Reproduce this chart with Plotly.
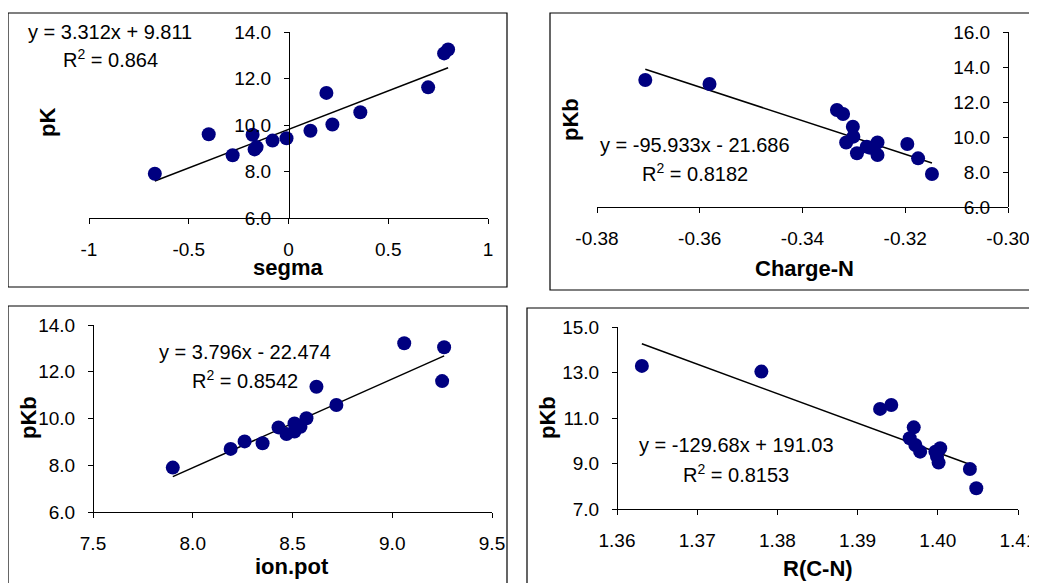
import plotly.graph_objects as go

W, H = 1037, 583
OX, OY = 8, 8  # page body margin offset

# ---------------- data ----------------
sigma = [-0.67, -0.40, -0.28, -0.18, -0.17, -0.16, -0.08, -0.01, 0.11, 0.19, 0.22, 0.36, 0.70, 0.78, 0.80]
pK1 = [7.90, 9.60, 8.70, 9.58, 8.95, 9.05, 9.33, 9.43, 9.75, 11.38, 10.02, 10.55, 11.62, 13.08, 13.25]

charge = [-0.3706, -0.3581, -0.3333, -0.3321, -0.3302, -0.3315, -0.3301, -0.3294, -0.3275, -0.3268,
          -0.3254, -0.3254, -0.3196, -0.3175, -0.3148]
pKb2 = [13.26, 13.03, 11.54, 11.31, 10.59, 9.69, 10.02, 9.07, 9.45, 9.38, 9.69, 8.97, 9.60, 8.78, 7.89]

ionpot = [7.90, 8.19, 8.26, 8.35, 8.43, 8.47, 8.51, 8.51, 8.54, 8.57, 8.62, 8.72, 9.06, 9.26, 9.25]
pKb3 = [7.90, 8.70, 9.02, 8.94, 9.62, 9.34, 9.79, 9.44, 9.65, 10.01, 11.36, 10.58, 13.22, 13.05, 11.60]

rcn = [1.3631, 1.3780, 1.3928, 1.3942, 1.3970, 1.3965, 1.3972, 1.3978, 1.3997, 1.4003, 1.4001,
       1.3999, 1.4040, 1.4048]
pKb4 = [13.29, 13.04, 11.40, 11.57, 10.59, 10.11, 9.81, 9.52, 9.52, 9.67, 9.04, 9.30, 8.76, 7.91]

# trendline coefficients (slope, intercept) as printed
fit1 = (3.312, 9.811)
fit2 = (-95.933, -21.686)
fit3 = (3.796, -22.474)
fit4 = (-129.68, 191.03)

eq_texts = [("y = 3.312x + 9.811", "R<sup>2</sup> = 0.864"),
            ("y = -95.933x - 21.686", "R<sup>2</sup> = 0.8182"),
            ("y = 3.796x - 22.474", "R<sup>2</sup> = 0.8542"),
            ("y = -129.68x + 191.03", "R<sup>2</sup> = 0.8153")]

x1_ticks = [-1, -0.5, 0, 0.5, 1]
x1_text = ["-1", "-0.5", "0", "0.5", "1"]
y1_ticks = [6, 8, 10, 12, 14]
y1_text = ["6.0", "8.0", "10.0", "12.0", "14.0"]

x2_ticks = [-0.38, -0.36, -0.34, -0.32, -0.30]
x2_text = ["-0.38", "-0.36", "-0.34", "-0.32", "-0.30"]
y2_ticks = [6, 8, 10, 12, 14, 16]
y2_text = ["6.0", "8.0", "10.0", "12.0", "14.0", "16.0"]

x3_ticks = [7.5, 8.0, 8.5, 9.0, 9.5]
x3_text = ["7.5", "8.0", "8.5", "9.0", "9.5"]
y3_ticks = [6, 8, 10, 12, 14]
y3_text = ["6.0", "8.0", "10.0", "12.0", "14.0"]

x4_ticks = [1.36, 1.37, 1.38, 1.39, 1.40, 1.41]
x4_text = ["1.36", "1.37", "1.38", "1.39", "1.40", "1.41"]
y4_ticks = [7, 9, 11, 13, 15]
y4_text = ["7.0", "9.0", "11.0", "13.0", "15.0"]

x_titles = ["segma", "Charge-N", "ion.pot", "R(C-N)"]
y_titles = ["pK", "pKb", "pKb", "pKb"]

# ---------------- layout helpers ----------------
FONT = "Arial, Liberation Sans, sans-serif"
MARK = "#000080"


def px_x(a):
    return (a - OX) / W


def px_y(a):
    return 1 - (a - OY) / H


def xd(a, b):
    return [px_x(a), px_x(b)]


def yd(top, bottom):
    return [px_y(bottom), px_y(top)]


fig = go.Figure()

panels = [
    (sigma, pK1, fit1),
    (charge, pKb2, fit2),
    (ionpot, pKb3, fit3),
    (rcn, pKb4, fit4),
]

for i, (xs, ys, (m, b)) in enumerate(panels, start=1):
    xa = "x" if i == 1 else f"x{i}"
    ya = "y" if i == 1 else f"y{i}"
    lo, hi = min(xs), max(xs)
    fig.add_trace(go.Scatter(x=[lo, hi], y=[m * lo + b, m * hi + b], mode="lines",
                             line=dict(color="black", width=1.5), xaxis=xa, yaxis=ya,
                             showlegend=False, hoverinfo="skip", cliponaxis=False))
    fig.add_trace(go.Scatter(x=xs, y=ys, mode="markers",
                             marker=dict(color=MARK, size=14, line=dict(width=0)),
                             xaxis=xa, yaxis=ya, showlegend=False, cliponaxis=False))

common_ax = dict(showgrid=False, zeroline=False, showline=True, linecolor="black", linewidth=1,
                 ticks="outside", ticklen=5, tickwidth=1, tickcolor="black",
                 tickfont=dict(family=FONT, size=19, color="black"), automargin=False)

specs = [
    ((89, 488), (-1, 1), (32, 218), (6, 14), 289, x1_ticks, x1_text, y1_ticks, y1_text),
    ((597, 1008), (-0.38, -0.30), (32, 207), (6, 16), 1008, x2_ticks, x2_text, y2_ticks, y2_text),
    ((93, 492), (7.5, 9.5), (325, 512), (6, 14), 93, x3_ticks, x3_text, y3_ticks, y3_text),
    ((617, 1018), (1.36, 1.41), (327, 509), (7, 15), 617, x4_ticks, x4_text, y4_ticks, y4_text),
]

lay = {}
for i, (xdp, xr, ydp, yr, ypos, xt, xtt, yt, ytt) in enumerate(specs, start=1):
    xk = "xaxis" if i == 1 else f"xaxis{i}"
    yk = "yaxis" if i == 1 else f"yaxis{i}"
    ya = "y" if i == 1 else f"y{i}"
    lay[xk] = dict(common_ax, domain=xd(*xdp), range=list(xr), anchor=ya,
                   tickvals=xt, ticktext=xtt, ticklabelstandoff=9)
    lay[yk] = dict(common_ax, domain=yd(*ydp), range=list(yr), anchor="free",
                   position=px_x(ypos), side="left",
                   tickvals=yt, ticktext=ytt, ticklabelstandoff=9)

fig.update_layout(**lay)

# boxes around each chart
boxes = [(8, 13, 507, 287), (550, 13, 1032, 290), (8, 306, 507, 600), (527, 308, 1050, 600)]
shapes = []
for (x0, y0, x1, y1) in boxes:
    shapes.append(dict(type="rect", xref="paper", yref="paper",
                       x0=px_x(x0), x1=px_x(x1), y0=px_y(y1), y1=px_y(y0),
                       line=dict(color="black", width=1.2), fillcolor="rgba(0,0,0,0)"))

annos = []
eq_pos = [((110, 32), (110, 59)), ((695, 145), (695, 172)),
          ((245, 352), (245, 379)), ((736, 445), (736, 473))]
for (l1, l2), (p1, p2) in zip(eq_texts, eq_pos):
    for txt, (px, py) in ((l1, p1), (l2, p2)):
        annos.append(dict(text=txt, xref="paper", yref="paper", x=px_x(px), y=px_y(py),
                          xanchor="center", yanchor="middle", showarrow=False,
                          font=dict(family=FONT, size=20, color="black")))

xt_pos = [(288, 267), (804, 268), (292, 566), (818, 568)]
yt_pos = [(47, 123), (570, 120), (28, 418), (547, 418)]
for t, (px, py) in zip(x_titles, xt_pos):
    annos.append(dict(text=f"<b>{t}</b>", xref="paper", yref="paper", x=px_x(px), y=px_y(py),
                      xanchor="center", yanchor="middle", showarrow=False,
                      font=dict(family=FONT, size=22, color="black")))
for t, (px, py) in zip(y_titles, yt_pos):
    annos.append(dict(text=f"<b>{t}</b>", xref="paper", yref="paper", x=px_x(px), y=px_y(py),
                      xanchor="center", yanchor="middle", showarrow=False, textangle=-90,
                      font=dict(family=FONT, size=22, color="black")))

fig.update_layout(template="none", width=W, height=H, autosize=False,
                  margin=dict(l=0, r=0, t=0, b=0, pad=0),
                  paper_bgcolor="white", plot_bgcolor="rgba(0,0,0,0)",
                  shapes=shapes, annotations=annos, showlegend=False)

fig.write_html("out.html")
